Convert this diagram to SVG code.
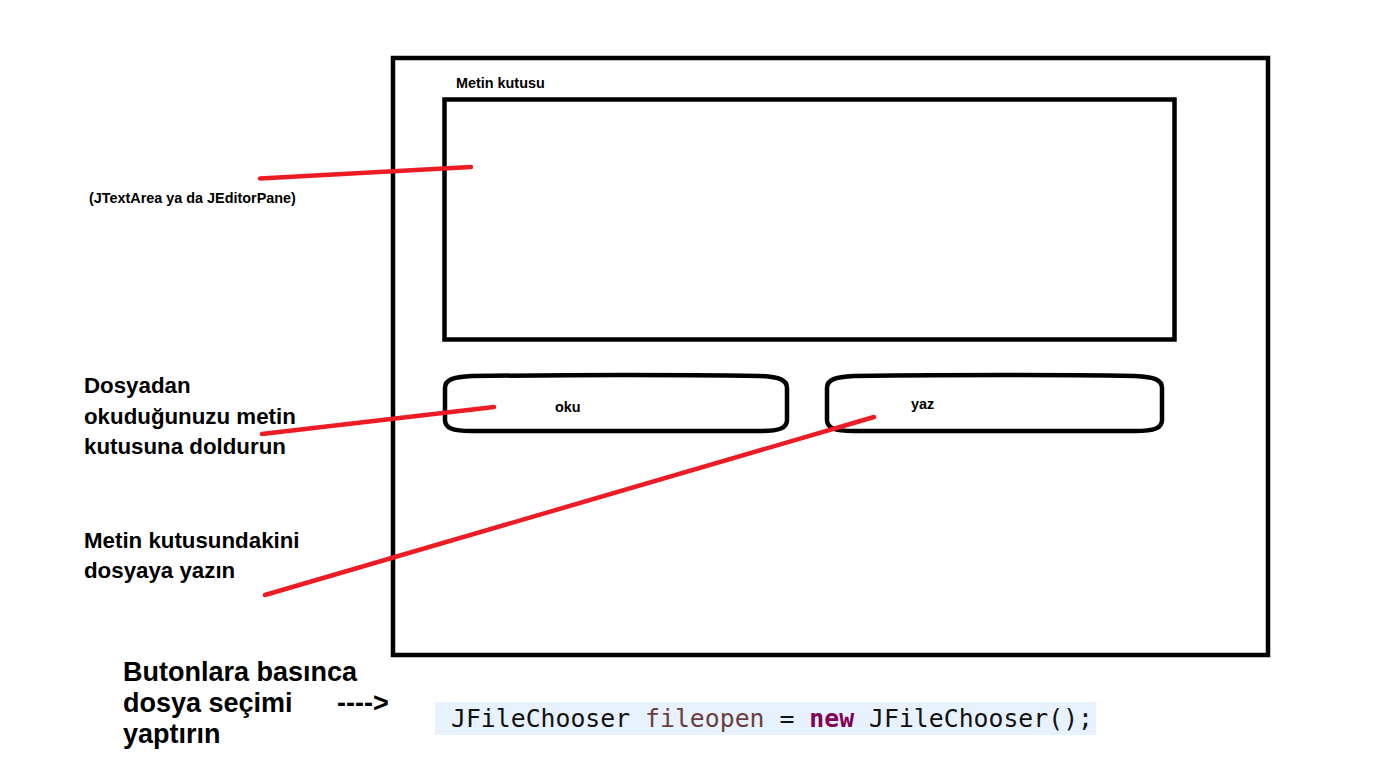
<svg xmlns="http://www.w3.org/2000/svg" width="1387" height="765" viewBox="0 0 1387 765">
<style>
.box{fill:none;stroke:#000;stroke-width:4.5}
.red{stroke:#ED1C24;stroke-width:4.5;stroke-linecap:round;fill:none}
.lbl{font-family:"Liberation Sans",Arial,sans-serif;font-weight:bold;fill:#000}
.s{font-size:14.4px}
.m{font-size:22.3px}
.l{font-size:27px}
.code{font-family:"DejaVu Sans Mono","Liberation Mono",monospace;font-size:24.5px;fill:#111}
</style>
<rect width="1387" height="765" fill="#fff"/>
<g id="frame">
<rect class="box" x="393" y="58" width="875" height="597"/>
</g>
<g id="textarea">
<rect class="box" x="444.5" y="99.5" width="730" height="240"/>
<text class="lbl s" x="456" y="88">Metin kutusu</text>
</g>
<g id="oku">
<path class="box" d="M472,376 C560,375 690,375 760,376 C780,377 787,380 787,388 L787,420 C787,428 780,431 760,431 L472,431 C452,431 445,428 445,420 L445,388 C445,380 452,377 472,376 Z"/>
<text class="lbl s" x="555" y="412">oku</text>
</g>
<g id="yaz">
<path class="box" d="M854,376 C940,375 1070,375 1135,376 C1155,377 1162,380 1162,388 L1162,420 C1162,428 1155,431 1135,431 L854,431 C834,431 827,428 827,420 L827,388 C827,380 834,377 854,376 Z"/>
<text class="lbl s" x="911" y="409">yaz</text>
</g>
<g id="note-textarea">
<text class="lbl s" x="89" y="203">(JTextArea ya da JEditorPane)</text>
</g>
<g id="note-oku">
<text class="lbl m" x="84" y="393">Dosyadan</text>
<text class="lbl m" x="84" y="423.5">okuduğunuzu metin</text>
<text class="lbl m" x="84" y="454">kutusuna doldurun</text>
</g>
<g id="note-yaz">
<text class="lbl m" x="84" y="548">Metin kutusundakini</text>
<text class="lbl m" x="84" y="578">dosyaya yazın</text>
</g>
<g id="note-chooser">
<text class="lbl l" x="123" y="681">Butonlara basınca</text>
<text class="lbl l" x="123" y="712">dosya seçimi</text>
<text class="lbl l" x="123" y="743">yaptırın</text>
<text class="lbl l" x="337" y="712">----&gt;</text>
</g>
<g id="code">
<rect x="435" y="702" width="661" height="33" fill="#E8F2FE"/>
<text class="code" x="451" y="727" textLength="642" lengthAdjust="spacingAndGlyphs">JFileChooser <tspan fill="#6A3E3E">fileopen</tspan> = <tspan fill="#7F0055" font-weight="bold">new</tspan> JFileChooser();</text>
</g>
<g id="connectors">
<line class="red" x1="260" y1="178.5" x2="471" y2="167"/>
<line class="red" x1="262" y1="434" x2="494" y2="407"/>
<line class="red" x1="265" y1="595" x2="874" y2="417"/>
</g>
</svg>
